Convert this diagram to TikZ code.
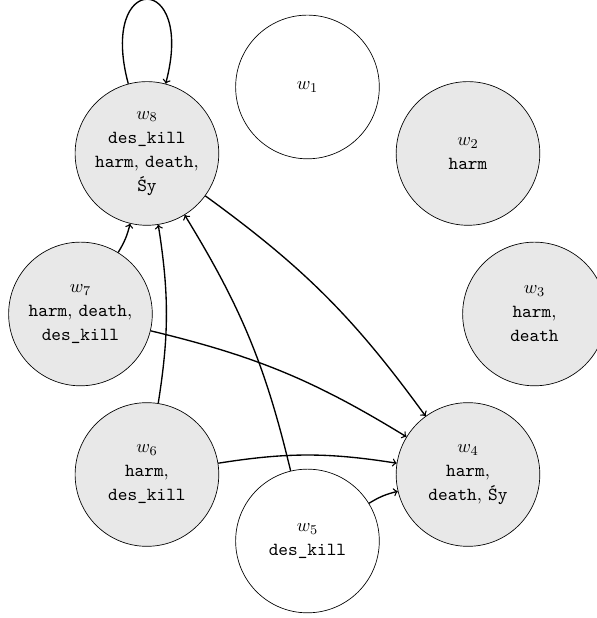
\documentclass[tikz,border=0pt]{standalone}
\usepackage{tikz}

\begin{document}
\begin{tikzpicture}[
    world/.style={circle,draw,thin,minimum size=3cm,inner sep=1pt,align=center,
                  font={\fontsize{10.95}{14.3}\selectfont}},
    marked/.style={world,fill=black!9},
    rel/.style={->,thick}]
    \useasboundingbox (-6.42,-6.348) rectangle (6.045,6.556);

    % Worlds on a ring
    \node[world]  (w1) at (90:4.74)  {$w_1$};
    \node[marked] (w2) at (45:4.74)  {$w_2$\\ \texttt{harm}};
    \node[marked] (w3) at (0:4.74)   {$w_3$\\ \texttt{harm},\\ \texttt{death}};
    \node[marked] (w4) at (-45:4.74) {$w_4$\\ \texttt{harm},\\ \texttt{death}, \texttt{Śy}};
    \node[world]  (w5) at (-90:4.74) {$w_5$\\ \texttt{des\_kill}};
    \node[marked] (w6) at (225:4.74) {$w_6$\\ \texttt{harm},\\ \texttt{des\_kill}};
    \node[marked] (w7) at (180:4.74) {$w_7$\\ \texttt{harm}, \texttt{death},\\ \texttt{des\_kill}};
    \node[marked] (w8) at (135:4.74) {$w_8$\\ \texttt{des\_kill}\\ \texttt{harm}, \texttt{death},\\ \texttt{Śy}};

    % Relations
    \draw[rel] (w8) to[loop above] (w8);
    \foreach \src in {w5,w6,w7}
        \draw[rel] (\src) to[bend right=9] (w8);
    \foreach \src in {w5,w6,w7,w8}
        \draw[rel] (\src) to[bend left=9] (w4);
\end{tikzpicture}
\end{document}
